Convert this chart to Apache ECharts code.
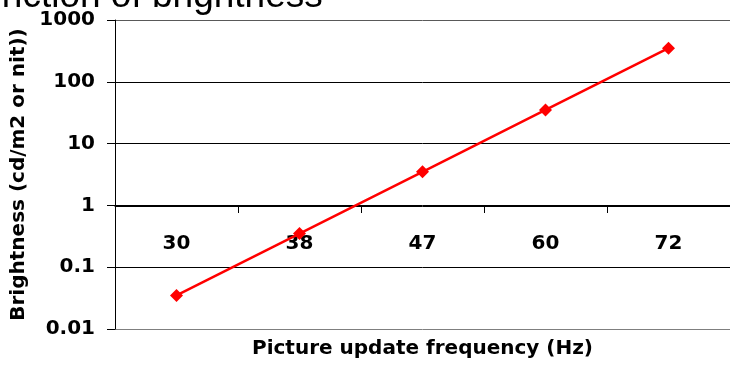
<!DOCTYPE html>
<html>
<head>
<meta charset="utf-8">
<script src="https://cdn.jsdelivr.net/npm/echarts@6/dist/echarts.min.js"></script>
<style>
html,body{margin:0;padding:0;background:#fff;}
#c{width:730px;height:385px;}
</style>
</head>
<body>
<div id="c"></div>
<script>
var categories = ['30', '38', '47', '60', '72'];
var brightness = [0.035, 0.35, 3.5, 35, 350];
var yTicks = [0.01, 0.1, 1, 10, 100, 1000];
var titleText = 'function of brightness';
var xName = 'Picture update frequency (Hz)';
var yName = 'Brightness (cd/m2 or nit))';

var chart = echarts.init(document.getElementById('c'), null, {renderer: 'canvas'});
var boldFont = 'DejaVu Sans';
chart.setOption({
  animation: false,
  backgroundColor: '#ffffff',
  graphic: [{
    type: 'text',
    left: -29,
    top: -22,
    style: {
      text: titleText,
      font: '37px "Liberation Sans", Arial, sans-serif',
      fill: '#000'
    }
  }],
  grid: {left: 115, top: 20, width: 627, height: 309, containLabel: false},
  xAxis: {
    type: 'category',
    data: categories,
    position: 'bottom',
    offset: -123,
    boundaryGap: true,
    name: xName,
    nameLocation: 'middle',
    nameGap: 133,
    nameTextStyle: {fontFamily: boldFont, fontWeight: 'bold', fontSize: 20, color: '#000'},
    axisLine: {show: true, onZero: false, lineStyle: {color: '#000', width: 1}},
    axisTick: {show: true, inside: false, length: 7, alignWithLabel: false, lineStyle: {color: '#000'}},
    axisLabel: {fontFamily: boldFont, fontWeight: 'bold', fontSize: 20, color: '#000', margin: 28, interval: 0},
    splitLine: {show: false}
  },
  yAxis: {
    type: 'log',
    logBase: 10,
    min: yTicks[0],
    max: yTicks[yTicks.length - 1],
    name: yName,
    nameLocation: 'middle',
    nameGap: 73,
    nameTextStyle: {fontFamily: boldFont, fontWeight: 'bold', fontSize: 20, color: '#000'},
    axisLine: {show: true, lineStyle: {color: '#000', width: 1}},
    axisTick: {show: true, length: 8, lineStyle: {color: '#000'}},
    axisLabel: {
      fontFamily: boldFont, fontWeight: 'bold', fontSize: 20, color: '#000', margin: 20,
      formatter: function (v) { return String(v); }
    },
    splitLine: {show: true, lineStyle: {color: ['#7f7f7f', '#000', '#000', '#000', '#000', '#595959'], width: 1}}
  },
  series: [{
    type: 'line',
    data: brightness,
    symbol: 'diamond',
    symbolSize: 13,
    itemStyle: {color: '#ff0000'},
    lineStyle: {color: '#ff0000', width: 2.5},
    z: 5
  }]
});
</script>
</body>
</html>
